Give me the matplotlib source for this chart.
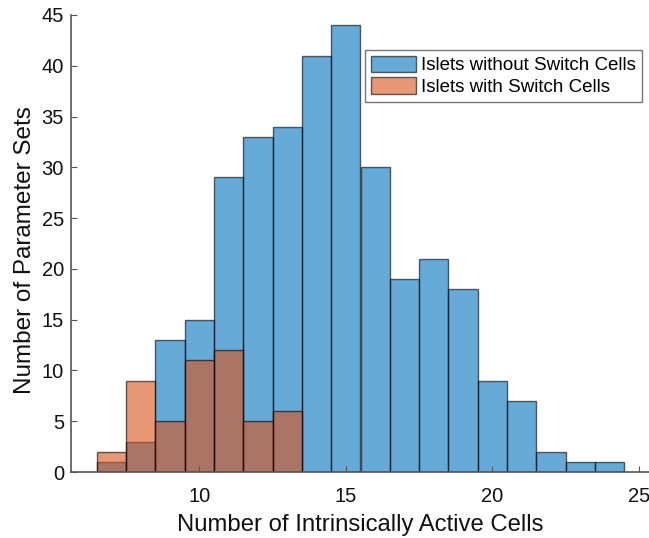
import numpy as np
import matplotlib.pyplot as plt

plt.rcParams['font.family'] = ['Liberation Sans', 'DejaVu Sans']

# bin centres (width 1) and counts
bins = [7, 8, 9, 10, 11, 12, 13, 14, 15, 16, 17, 18, 19, 20, 21, 22, 23, 24]
without_switch = [1, 3, 13, 15, 29, 33, 34, 41, 44, 30, 19, 21, 18, 9, 7, 2, 1, 1]
with_switch_bins = [7, 8, 9, 10, 11, 12, 13]
with_switch = [2, 9, 5, 11, 12, 5, 6]

blue = (0, 0.447, 0.741)
orange = (0.85, 0.325, 0.098)

fig = plt.figure(figsize=(6.49, 5.38), dpi=100)
ax = fig.add_axes([71 / 649, 66 / 538, 579 / 649, 457 / 538])

ax.bar(bins, without_switch, width=1, color=blue, alpha=0.6,
       edgecolor='black', linewidth=1.0, label='Islets without Switch Cells')
ax.bar(with_switch_bins, with_switch, width=1, color=orange, alpha=0.6,
       edgecolor='black', linewidth=1.0, label='Islets with Switch Cells')

ax.set_xlim(5.62, 25.38)
ax.set_ylim(0, 45)
ax.set_xticks([10, 15, 20, 25])
ax.set_yticks(range(0, 46, 5))

for s in ['top', 'right']:
    ax.spines[s].set_visible(False)
for s in ['left', 'bottom']:
    ax.spines[s].set_color('#555555')
    ax.spines[s].set_linewidth(1.2)
ax.tick_params(direction='in', length=4, width=0.8, colors='#555555',
               labelcolor='#111111', labelsize=14.5)
ax.tick_params(axis='x', pad=10.5)
ax.tick_params(axis='y', pad=5)

ax.set_xlabel('Number of Intrinsically Active Cells', fontsize=17.2,
              color='#111111', labelpad=6)
ax.set_ylabel('Number of Parameter Sets', fontsize=17.5, color='#111111')
ax.yaxis.set_label_coords(-0.061, 0.486)

leg = ax.legend(loc='upper left', bbox_to_anchor=(365 / 649, 1 - 50 / 538),
                bbox_transform=fig.transFigure, borderaxespad=0,
                fancybox=False, framealpha=1, edgecolor='#777777',
                fontsize=13.5, handlelength=2.4, handleheight=1.0,
                handletextpad=0.3, labelspacing=0.15, borderpad=0.3)
leg.get_frame().set_linewidth(1.0)

fig.savefig('out.png', dpi=100)
